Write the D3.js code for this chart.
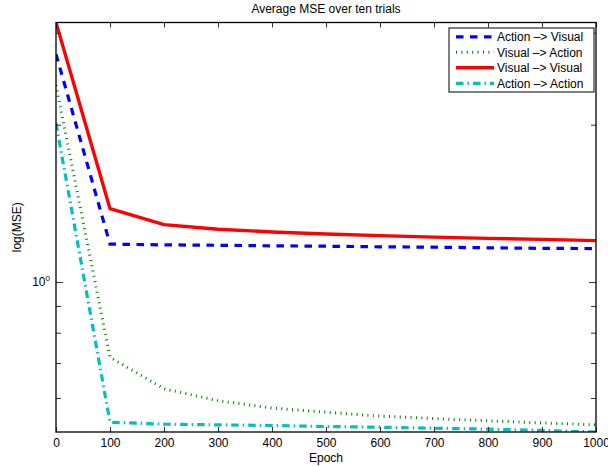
<!DOCTYPE html>
<html>
<head>
<meta charset="utf-8">
<script src="https://cdn.jsdelivr.net/npm/d3@7"></script>
<style>
  html, body { margin: 0; padding: 0; background: #fff; }
  svg { display: block; font-family: "Liberation Sans", Arial, Helvetica, sans-serif; }
</style>
</head>
<body>
<svg id="chart" width="608" height="466"></svg>
<script>
// Training epochs at which the error was recorded
const epochs = [0, 100, 200, 300, 400, 500, 600, 700, 800, 900, 1000];

// Mean squared error averaged over ten trials, one array per mapping
const actionToVisual = [2.73, 1.182, 1.178, 1.176, 1.173, 1.171, 1.168, 1.166, 1.163, 1.160, 1.159];
const visualToAction = [2.381, 0.718, 0.625, 0.593, 0.574, 0.5636, 0.5538, 0.548, 0.5426, 0.5377, 0.533];
const visualToVisual = [3.138, 1.382, 1.288, 1.262, 1.247, 1.236, 1.227, 1.219, 1.212, 1.207, 1.200];
const actionToAction = [2.013, 0.5393, 0.5346, 0.533, 0.5315, 0.5291, 0.5275, 0.5252, 0.523, 0.520, 0.5165];

const seriesNames = ["Action \u2013> Visual", "Visual \u2013> Action", "Visual \u2013> Visual", "Action \u2013> Action"];
const xTicks = [0, 100, 200, 300, 400, 500, 600, 700, 800, 900, 1000];

const titleText = "Average MSE over ten trials";
const xLabelText = "Epoch";
const yLabelText = "log(MSE)";

// Line styles for each mapping
const styles = [
  { color: "#0000ff", width: 3.2, dash: "7.5 6.5" },
  { color: "#008000", width: 3, dash: "1 4.4" },
  { color: "#ff0000", width: 3.4, dash: null },
  { color: "#00bfbf", width: 3.2, dash: "7.5 4 1.5 4" }
];
const allSeries = [actionToVisual, visualToAction, visualToVisual, actionToAction];

const svg = d3.select("#chart");
const plot = { left: 56, right: 596, top: 22.5, bottom: 432 };

const x = d3.scaleLinear().domain([0, 1000]).range([plot.left, plot.right]);
const allValues = allSeries.flat();
const y = d3.scaleLog()
  .domain([d3.min(allValues), d3.max(allValues)])
  .range([plot.bottom, plot.top]);

svg.append("defs").append("clipPath").attr("id", "plot-clip")
  .append("rect")
  .attr("x", plot.left).attr("y", plot.top)
  .attr("width", plot.right - plot.left).attr("height", plot.bottom - plot.top);

// Data lines
const line = d3.line().x((d, i) => x(epochs[i])).y(d => y(d));
const linesG = svg.append("g").attr("clip-path", "url(#plot-clip)");
allSeries.forEach((s, k) => {
  linesG.append("path")
    .datum(s)
    .attr("d", line)
    .attr("fill", "none")
    .attr("stroke", styles[k].color)
    .attr("stroke-width", styles[k].width)
    .attr("stroke-dasharray", styles[k].dash)
    .attr("stroke-linejoin", "miter")
    .attr("stroke-linecap", "butt");
});

// Axes: ticks point inward on all four sides
const tickLen = 5;
const axisColor = "#000";

const xBottom = svg.append("g").attr("transform", `translate(0,${plot.bottom})`)
  .call(d3.axisBottom(x).tickValues(xTicks).tickSize(-tickLen).tickPadding(6).tickFormat(d3.format("d")));
const xTop = svg.append("g").attr("transform", `translate(0,${plot.top})`)
  .call(d3.axisTop(x).tickValues(xTicks).tickSize(-tickLen).tickFormat(""));

const yTickVals = y.ticks();
const yFmt = v => "";
const yLeft = svg.append("g").attr("transform", `translate(${plot.left},0)`)
  .call(d3.axisLeft(y).tickValues(yTickVals).tickSize(-tickLen).tickFormat(yFmt));
const yRight = svg.append("g").attr("transform", `translate(${plot.right},0)`)
  .call(d3.axisRight(y).tickValues(yTickVals).tickSize(-tickLen).tickFormat(yFmt));

[xBottom, xTop, yLeft, yRight].forEach(g => {
  g.select(".domain").remove();
  g.selectAll(".tick line").attr("stroke", "#333").attr("stroke-width", 1);
});
// Major decade tick is a little longer
[yLeft, yRight].forEach((g, i) => {
  g.selectAll(".tick line").filter(d => Math.abs(Math.log10(d) - Math.round(Math.log10(d))) < 1e-9)
    .attr("x2", i === 0 ? 7 : -7);
});

xBottom.selectAll(".tick text")
  .attr("font-size", 12).attr("fill", "#000")
  .attr("font-family", "'Liberation Sans', Arial, Helvetica, sans-serif");

// Decade labels on the log axis, written as 10 with a superscript exponent
const decades = yTickVals.filter(d => Math.abs(Math.log10(d) - Math.round(Math.log10(d))) < 1e-9);
decades.forEach(d => {
  const t = svg.append("text")
    .attr("x", plot.left - 6)
    .attr("y", y(d) + 4)
    .attr("text-anchor", "end")
    .attr("font-size", 12)
    .attr("fill", "#000");
  t.append("tspan").text("10");
  t.append("tspan").attr("font-size", 8).attr("dy", -5).text(String(Math.round(Math.log10(d))));
});

// Frame
svg.append("rect")
  .attr("x", plot.left).attr("y", plot.top)
  .attr("width", plot.right - plot.left).attr("height", plot.bottom - plot.top)
  .attr("fill", "none").attr("stroke", axisColor).attr("stroke-width", 1.3);

// Title and axis labels
svg.append("text").attr("x", (plot.left + plot.right) / 2).attr("y", 13)
  .attr("text-anchor", "middle").attr("font-size", 12).text(titleText);
svg.append("text").attr("x", (plot.left + plot.right) / 2).attr("y", 462)
  .attr("text-anchor", "middle").attr("font-size", 12).text(xLabelText);
svg.append("text")
  .attr("transform", `translate(21,${(plot.top + plot.bottom) / 2}) rotate(-90)`)
  .attr("text-anchor", "middle").attr("font-size", 12).text(yLabelText);

// Legend
const lg = { left: 449, top: 28, width: 145, height: 64, rowH: 15.5, firstRow: 36.8 };
svg.append("rect")
  .attr("x", lg.left).attr("y", lg.top).attr("width", lg.width).attr("height", lg.height)
  .attr("fill", "#fff").attr("stroke", "#000").attr("stroke-width", 1);
seriesNames.forEach((name, k) => {
  const cy = lg.firstRow + k * lg.rowH;
  svg.append("line")
    .attr("x1", 456).attr("x2", 494).attr("y1", cy).attr("y2", cy)
    .attr("stroke", styles[k].color)
    .attr("stroke-width", styles[k].width)
    .attr("stroke-dasharray", styles[k].dash);
  svg.append("text").attr("x", 497).attr("y", cy + 4.3)
    .attr("font-size", 12).text(name);
});
</script>
</body>
</html>
